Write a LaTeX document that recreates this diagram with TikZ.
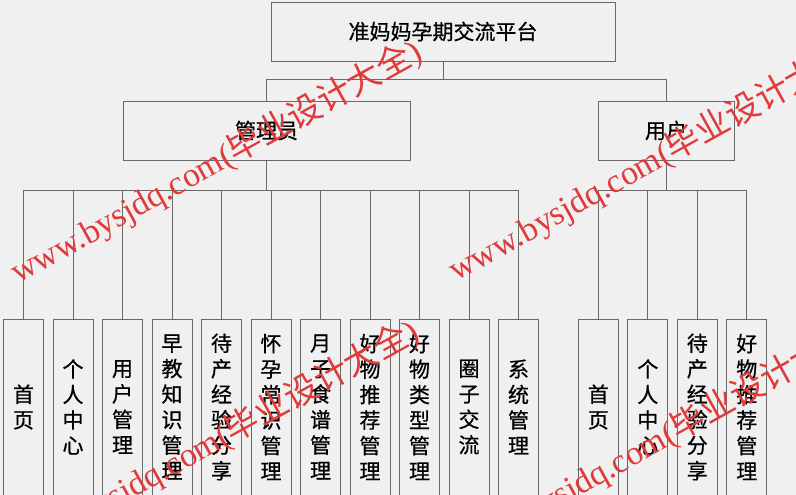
\documentclass[tikz,border=0pt]{standalone}
\usepackage{fontspec}
\setmainfont{Liberation Serif}
\newfontfamily\cjk{Noto Sans CJK SC}
\newfontfamily\cjkb[FakeBold=0.7]{Noto Sans CJK SC}
\newfontfamily\wmlat{Liberation Serif}
\definecolor{bg}{HTML}{F0F0F0}
\definecolor{ln}{HTML}{6A6A6A}
\definecolor{wm}{HTML}{E03A3A}
\begin{document}
\begin{tikzpicture}[x=1pt,y=-1pt,
  box/.style={draw=ln, line width=0.9pt, inner sep=0pt, font=\cjkb\fontsize{21}{25.5}\selectfont},
  leaf/.style={box, minimum width=40pt, minimum height=176pt, align=center},
  conn/.style={draw=ln, line width=0.9pt},
  wmark/.style={text=wm, rotate=29, inner sep=0pt, font=\fontsize{34}{34}\selectfont}]
\useasboundingbox (0,0) rectangle (796,495);
\fill[bg] (0,0) rectangle (796,495);
\clip (0,0) rectangle (796,495);

\node[box, minimum width=344pt, minimum height=59pt] (root) at (443,31.5) {准妈妈孕期交流平台};
\node[box, minimum width=287pt, minimum height=59pt] (admin) at (266.5,130.5) {管理员};
\node[box, minimum width=136pt, minimum height=59pt] (user) at (666,130.5) {用户};

\coordinate (b1) at (0,79);
\coordinate (b2) at (0,190);

\node[leaf] (a1) at (23.5,407) {首\\页};
\node[leaf] (a2) at (73,407) {个\\人\\中\\心};
\node[leaf] (a3) at (122.5,407) {用\\户\\管\\理};
\node[leaf] (a4) at (172,407) {早\\教\\知\\识\\管\\理};
\node[leaf] (a5) at (221.5,407) {待\\产\\经\\验\\分\\享};
\node[leaf] (a6) at (271,407) {怀\\孕\\常\\识\\管\\理};
\node[leaf] (a7) at (320.5,407) {月\\子\\食\\谱\\管\\理};
\node[leaf] (a8) at (370,407) {好\\物\\推\\荐\\管\\理};
\node[leaf] (a9) at (419.5,407) {好\\物\\类\\型\\管\\理};
\node[leaf] (a10) at (469,407) {圈\\子\\交\\流};
\node[leaf] (a11) at (518.5,407) {系\\统\\管\\理};

\node[leaf] (u1) at (598.3,407) {首\\页};
\node[leaf] (u2) at (647.8,407) {个\\人\\中\\心};
\node[leaf] (u3) at (697.3,407) {待\\产\\经\\验\\分\\享};
\node[leaf] (u4) at (746.8,407) {好\\物\\推\\荐\\管\\理};

% top level
\draw[conn] (root.south) -- (root.south |- b1);
\draw[conn] (admin.north |- b1) -- (user.north |- b1);
\draw[conn] (admin.north |- b1) -- (admin.north);
\draw[conn] (user.north |- b1) -- (user.north);

% admin bus
\draw[conn] (admin.south) -- (admin.south |- b2);
\draw[conn] (a1.north |- b2) -- (a11.north |- b2);
\foreach \n in {a1,a2,a3,a4,a5,a6,a7,a8,a9,a10,a11}
  \draw[conn] (\n.north |- b2) -- (\n.north);

% user bus
\draw[conn] (user.south) -- (user.south |- b2);
\draw[conn] (u1.north |- b2) -- (u4.north |- b2);
\foreach \n in {u1,u2,u3,u4}
  \draw[conn] (\n.north |- b2) -- (\n.north);

% watermarks
\node[wmark] (wm1) at (216,162) {\wmlat www.bysjdq.com({\cjk 毕业设计大全})};
\node[wmark] (wm2) at (654,160) {\wmlat www.bysjdq.com({\cjk 毕业设计大全})};
\node[wmark] (wm3) at (213,442) {\wmlat www.bysjdq.com({\cjk 毕业设计大全})};
\node[wmark] (wm4) at (659,440) {\wmlat www.bysjdq.com({\cjk 毕业设计大全})};
\end{tikzpicture}
\end{document}
